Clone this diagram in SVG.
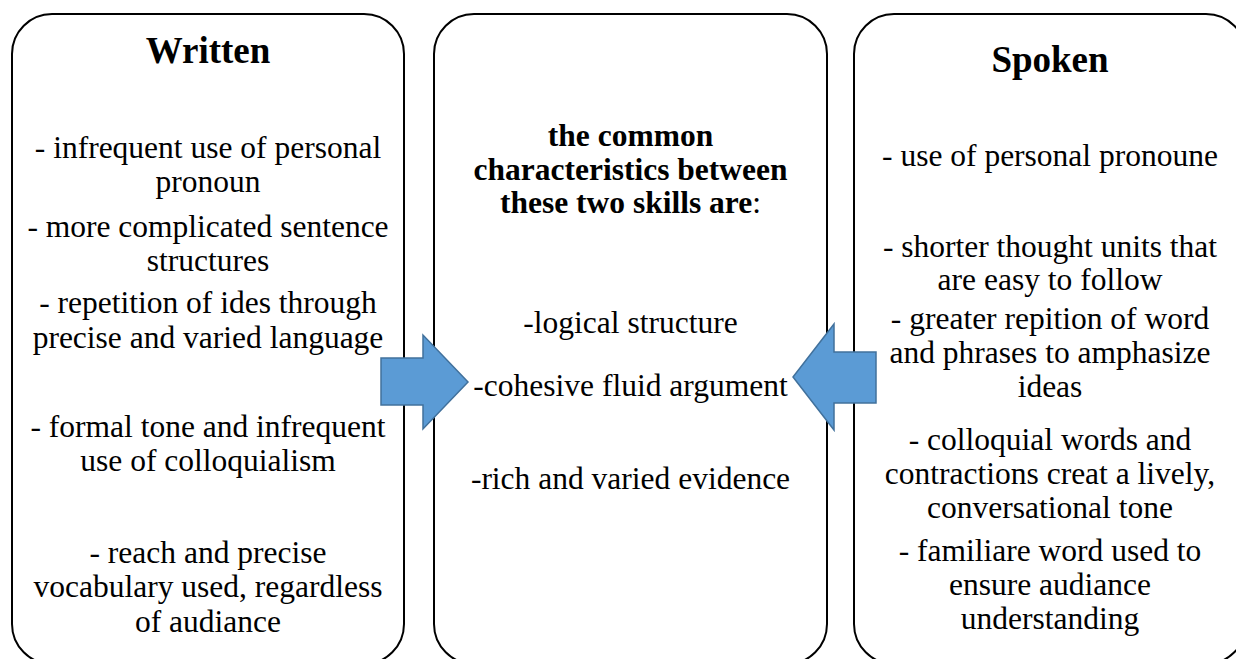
<svg xmlns="http://www.w3.org/2000/svg" width="1236" height="659" viewBox="0 0 1236 659">
<style>
.box{fill:#fff;stroke:#000;stroke-width:2}
.h{font-family:"Liberation Serif","Times New Roman",serif;font-weight:bold;font-size:37px;text-anchor:middle;fill:#000}
.b{font-family:"Liberation Serif","Times New Roman",serif;font-weight:bold;font-size:31.5px;text-anchor:middle;fill:#000}
.t{font-family:"Liberation Serif","Times New Roman",serif;font-size:31.5px;text-anchor:middle;fill:#000}
.arr{fill:#5B9BD5;stroke:#41719C;stroke-width:1.5;stroke-linejoin:miter}
</style>
<rect width="1236" height="659" fill="#fff"/>
<g id="written">
<rect class="box" x="12" y="14" width="392" height="650" rx="40" ry="40"/>
<text class="h" x="208" y="63">Written</text>
<text class="t" x="208" y="158">- infrequent use of personal</text>
<text class="t" x="208" y="192">pronoun</text>
<text class="t" x="208" y="237">- more complicated sentence</text>
<text class="t" x="208" y="271">structures</text>
<text class="t" x="208" y="313">- repetition of ides through</text>
<text class="t" x="208" y="348">precise and varied language</text>
<text class="t" x="208" y="437">- formal tone and infrequent</text>
<text class="t" x="208" y="471">use of colloquialism</text>
<text class="t" x="208" y="563">- reach and precise</text>
<text class="t" x="208" y="597">vocabulary used, regardless</text>
<text class="t" x="208" y="632">of audiance</text>
</g>
<g id="common">
<rect class="box" x="434" y="14" width="393" height="650" rx="40" ry="40"/>
<text class="b" x="630.5" y="146">the common</text>
<text class="b" x="630.5" y="180">characteristics between</text>
<text class="b" x="630.5" y="213">these two skills are<tspan font-weight="normal">:</tspan></text>
<text class="t" x="630.5" y="333">-logical structure</text>
<text class="t" x="630.5" y="396">-cohesive fluid argument</text>
<text class="t" x="630.5" y="489">-rich and varied evidence</text>
</g>
<g id="spoken">
<rect class="box" x="854" y="14" width="392" height="650" rx="40" ry="40"/>
<text class="h" x="1050" y="72">Spoken</text>
<text class="t" x="1050" y="166">- use of personal pronoune</text>
<text class="t" x="1050" y="257">- shorter thought units that</text>
<text class="t" x="1050" y="290">are easy to follow</text>
<text class="t" x="1050" y="329">- greater repition of word</text>
<text class="t" x="1050" y="363">and phrases to amphasize</text>
<text class="t" x="1050" y="397">ideas</text>
<text class="t" x="1050" y="450">- colloquial words and</text>
<text class="t" x="1050" y="484">contractions creat a lively,</text>
<text class="t" x="1050" y="518">conversational tone</text>
<text class="t" x="1050" y="561">- familiare word used to</text>
<text class="t" x="1050" y="595">ensure audiance</text>
<text class="t" x="1050" y="629">understanding</text>
</g>
<g id="connectors">
<polygon class="arr" points="381,358 423,358 423,335 468,382 423,429 423,405 381,405"/>
<polygon class="arr" points="876,352 834,352 834,324 793,377 834,430 834,403 876,403"/>
</g>
</svg>
